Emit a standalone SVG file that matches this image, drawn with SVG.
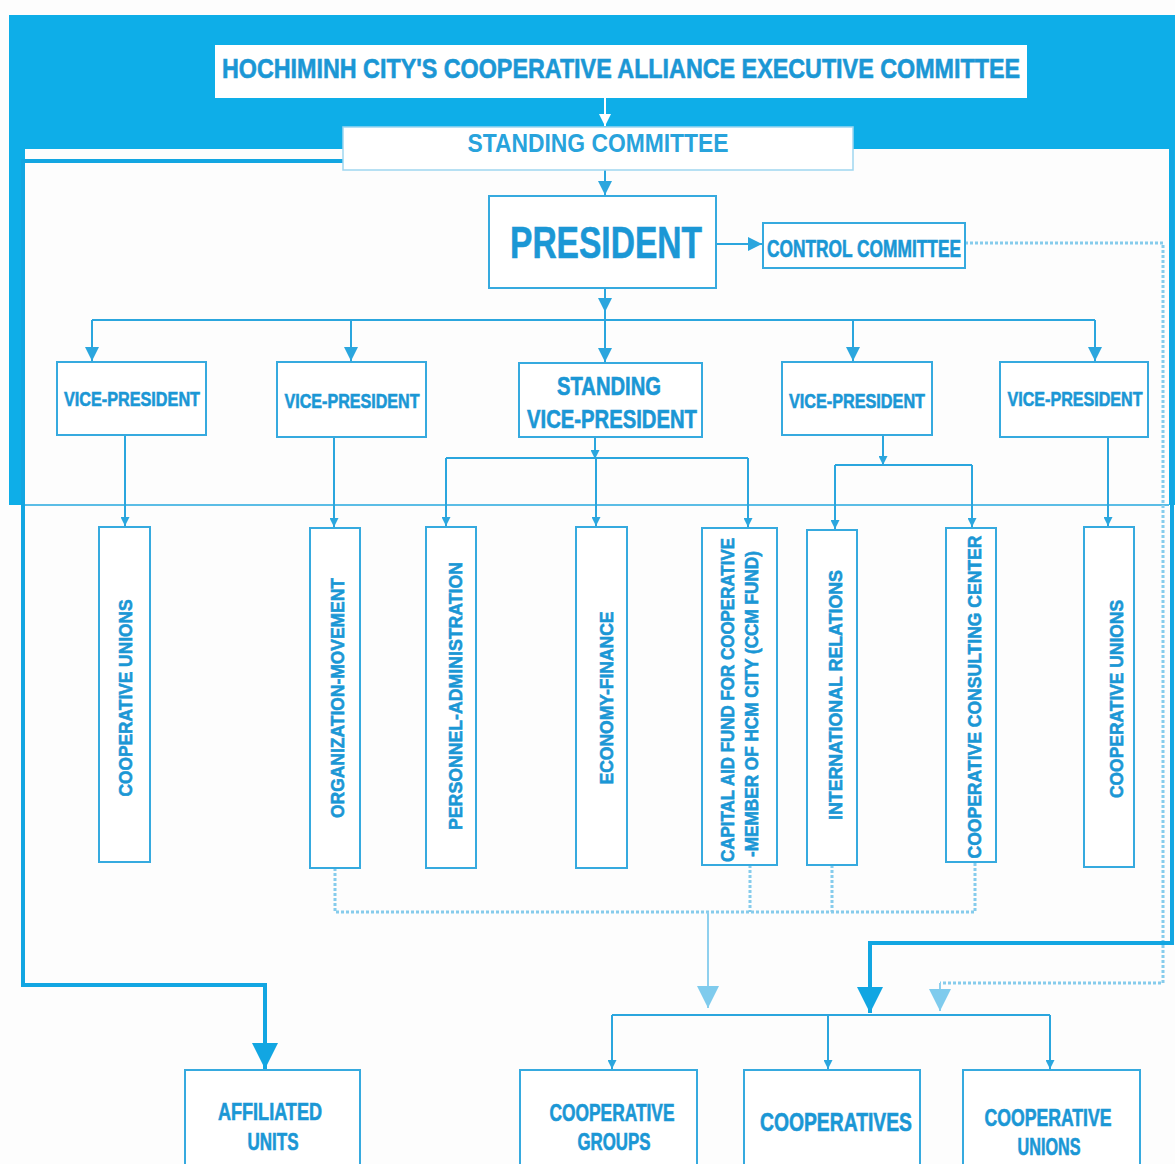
<svg xmlns="http://www.w3.org/2000/svg" width="1175" height="1164" viewBox="0 0 1175 1164">
<style>
text{font-family:"Liberation Sans",Arial,sans-serif;font-weight:bold;fill:#1b97d5;stroke:#1b97d5;stroke-width:0.6;text-anchor:middle}
.box{fill:#fff;stroke:#36aadf;stroke-width:2}
.ln{fill:none;stroke:#2ba6de;stroke-width:2}
.thick{fill:none;stroke:#12a6e2;stroke-width:4}
.dot{fill:none;stroke:#86ccec;stroke-width:3;stroke-dasharray:3 2}
.lite{fill:none;stroke:#8fd0ee;stroke-width:2}
</style>
<defs>
<marker id="a" viewBox="0 0 10 10" refX="10" refY="5" markerWidth="14" markerHeight="14" markerUnits="userSpaceOnUse" orient="auto"><path d="M0,0 L10,5 L0,10 z" fill="#2ba6de"/></marker>
<marker id="as" viewBox="0 0 10 10" refX="10" refY="5" markerWidth="9" markerHeight="9" markerUnits="userSpaceOnUse" orient="auto"><path d="M0,0 L10,5 L0,10 z" fill="#2ba6de"/></marker>
<marker id="aw" viewBox="0 0 10 10" refX="10" refY="5" markerWidth="12" markerHeight="12" markerUnits="userSpaceOnUse" orient="auto"><path d="M0,0 L10,5 L0,10 z" fill="#fff"/></marker>
<marker id="ab" viewBox="0 0 10 10" refX="10" refY="5" markerWidth="26" markerHeight="26" markerUnits="userSpaceOnUse" orient="auto"><path d="M0,0 L10,5 L0,10 z" fill="#12a6e2"/></marker>
<marker id="al" viewBox="0 0 10 10" refX="10" refY="5" markerWidth="22" markerHeight="22" markerUnits="userSpaceOnUse" orient="auto"><path d="M0,0 L10,5 L0,10 z" fill="#7fcbed"/></marker>
</defs>
<rect width="1175" height="1164" fill="#fdfdfd"/>
<g id="background">
<rect x="9" y="15" width="1166" height="490" fill="#0eaee8"/>
<rect x="25" y="149" width="1144" height="356" fill="#fdfdfd"/>
<line x1="25" y1="505" x2="1169" y2="505" stroke="#5bbde6" stroke-width="2"/>
</g>
<g id="connectors">
<line x1="605" y1="98" x2="605" y2="126" stroke="#fff" stroke-width="2" marker-end="url(#aw)"/>
<line class="ln" x1="605" y1="170" x2="605" y2="195" marker-end="url(#a)"/>
<line class="ln" x1="716" y1="244" x2="762" y2="244" marker-end="url(#a)"/>
<line class="ln" x1="605" y1="288" x2="605" y2="312" marker-end="url(#a)"/>
<line class="ln" x1="92" y1="320" x2="1095" y2="320"/>
<line class="ln" x1="92" y1="320" x2="92" y2="361" marker-end="url(#a)"/>
<line class="ln" x1="351" y1="320" x2="351" y2="361" marker-end="url(#a)"/>
<line class="ln" x1="605" y1="312" x2="605" y2="362" marker-end="url(#a)"/>
<line class="ln" x1="853" y1="320" x2="853" y2="361" marker-end="url(#a)"/>
<line class="ln" x1="1095" y1="320" x2="1095" y2="361" marker-end="url(#a)"/>
<line class="ln" x1="125" y1="436" x2="125" y2="526" marker-end="url(#as)"/>
<line class="ln" x1="334" y1="437" x2="334" y2="527" marker-end="url(#as)"/>
<line class="ln" x1="595" y1="437" x2="595" y2="459" marker-end="url(#as)"/>
<line class="ln" x1="446" y1="458" x2="748" y2="458"/>
<line class="ln" x1="446" y1="458" x2="446" y2="526" marker-end="url(#as)"/>
<line class="ln" x1="748" y1="458" x2="748" y2="527" marker-end="url(#as)"/>
<line class="ln" x1="596" y1="458" x2="596" y2="526" marker-end="url(#as)"/>
<line class="ln" x1="883" y1="435" x2="883" y2="465" marker-end="url(#as)"/>
<line class="ln" x1="835" y1="465" x2="972" y2="465"/>
<line class="ln" x1="835" y1="465" x2="835" y2="529" marker-end="url(#as)"/>
<line class="ln" x1="972" y1="465" x2="972" y2="527" marker-end="url(#as)"/>
<line class="ln" x1="1108" y1="437" x2="1108" y2="526" marker-end="url(#as)"/>
<polyline class="dot" points="335,868 335,912 975,912 975,862"/>
<line class="dot" x1="750" y1="865" x2="750" y2="912"/>
<line class="dot" x1="832" y1="865" x2="832" y2="912"/>
<line class="lite" x1="708" y1="912" x2="708" y2="1008" marker-end="url(#al)"/>
<polyline class="dot" points="965,243 1163,243 1163,983 940,983"/>
<line class="lite" x1="940" y1="983" x2="940" y2="1011" stroke-width="3" marker-end="url(#al)"/>
<polyline class="thick" points="343,161 23,161 23,985 265,985 265,1069" marker-end="url(#ab)"/>
<polyline class="thick" points="1172,150 1172,943 870,943 870,1013" marker-end="url(#ab)"/>
<line class="ln" x1="612" y1="1015" x2="1050" y2="1015"/>
<line class="ln" x1="612" y1="1015" x2="612" y2="1069" marker-end="url(#as)"/>
<line class="ln" x1="828" y1="1015" x2="828" y2="1069" marker-end="url(#as)"/>
<line class="ln" x1="1050" y1="1015" x2="1050" y2="1069" marker-end="url(#as)"/>
</g>
<g id="title"><rect x="215" y="45" width="812" height="53" fill="#fff"/><text x="621" y="78" font-size="27" textLength="798" lengthAdjust="spacingAndGlyphs">HOCHIMINH CITY'S COOPERATIVE ALLIANCE EXECUTIVE COMMITTEE</text></g>
<g id="standing-committee"><rect x="343" y="127" width="510" height="43" fill="#fff" stroke="#9fd6ef" stroke-width="1.5"/><text x="598" y="152" font-size="25" textLength="261" lengthAdjust="spacingAndGlyphs" style="fill:#28a3dc;stroke:none">STANDING COMMITTEE</text></g>
<g id="president"><rect class="box" x="489" y="196" width="227" height="92" stroke-width="3"/><text x="606" y="258" font-size="44" textLength="192" lengthAdjust="spacingAndGlyphs">PRESIDENT</text></g>
<g id="control-committee"><rect class="box" x="763" y="223" width="202" height="45"/><text x="864" y="257" font-size="23" textLength="194" lengthAdjust="spacingAndGlyphs">CONTROL COMMITTEE</text></g>
<g id="vp1"><rect class="box" x="57" y="362" width="149" height="73"/><text x="132" y="406" font-size="20" textLength="136" lengthAdjust="spacingAndGlyphs">VICE-PRESIDENT</text></g>
<g id="vp2"><rect class="box" x="277" y="362" width="149" height="75"/><text x="352" y="408" font-size="20" textLength="135" lengthAdjust="spacingAndGlyphs">VICE-PRESIDENT</text></g>
<g id="standing-vp"><rect class="box" x="519" y="363" width="183" height="74"/><text x="609" y="395" font-size="25" textLength="104" lengthAdjust="spacingAndGlyphs">STANDING</text><text x="612" y="428" font-size="25" textLength="170" lengthAdjust="spacingAndGlyphs">VICE-PRESIDENT</text></g>
<g id="vp3"><rect class="box" x="782" y="362" width="150" height="73"/><text x="857" y="408" font-size="20" textLength="136" lengthAdjust="spacingAndGlyphs">VICE-PRESIDENT</text></g>
<g id="vp4"><rect class="box" x="1000" y="362" width="148" height="75"/><text x="1075" y="406" font-size="20" textLength="135" lengthAdjust="spacingAndGlyphs">VICE-PRESIDENT</text></g>
<g id="coop-unions-1"><rect class="box" x="99" y="527" width="51" height="335"/><text transform="translate(132,698) rotate(-90)" font-size="19" textLength="197" lengthAdjust="spacingAndGlyphs">COOPERATIVE UNIONS</text></g>
<g id="organization-movement"><rect class="box" x="310" y="528" width="50" height="340"/><text transform="translate(344,698) rotate(-90)" font-size="19" textLength="240" lengthAdjust="spacingAndGlyphs">ORGANIZATION-MOVEMENT</text></g>
<g id="personnel-administration"><rect class="box" x="426" y="527" width="50" height="341"/><text transform="translate(462,696) rotate(-90)" font-size="19" textLength="268" lengthAdjust="spacingAndGlyphs">PERSONNEL-ADMINISTRATION</text></g>
<g id="economy-finance"><rect class="box" x="576" y="527" width="51" height="341"/><text transform="translate(613,698) rotate(-90)" font-size="19" textLength="173" lengthAdjust="spacingAndGlyphs">ECONOMY-FINANCE</text></g>
<g id="capital-aid-fund"><rect class="box" x="702" y="528" width="75" height="337"/><text transform="translate(734,700) rotate(-90)" font-size="18" textLength="324" lengthAdjust="spacingAndGlyphs">CAPITAL AID FUND FOR COOPERATIVE</text><text transform="translate(758,704) rotate(-90)" font-size="18" textLength="306" lengthAdjust="spacingAndGlyphs">-MEMBER OF HCM CITY (CCM FUND)</text></g>
<g id="international-relations"><rect class="box" x="807" y="530" width="50" height="335"/><text transform="translate(842,695) rotate(-90)" font-size="19" textLength="250" lengthAdjust="spacingAndGlyphs">INTERNATIONAL RELATIONS</text></g>
<g id="consulting-center"><rect class="box" x="946" y="528" width="50" height="334"/><text transform="translate(981,697) rotate(-90)" font-size="19" textLength="323" lengthAdjust="spacingAndGlyphs">COOPERATIVE CONSULTING CENTER</text></g>
<g id="coop-unions-2"><rect class="box" x="1084" y="527" width="50" height="340"/><text transform="translate(1123,699) rotate(-90)" font-size="19" textLength="198" lengthAdjust="spacingAndGlyphs">COOPERATIVE UNIONS</text></g>
<g id="affiliated-units"><rect class="box" x="185" y="1070" width="175" height="110"/><text x="270" y="1120" font-size="23" textLength="104" lengthAdjust="spacingAndGlyphs">AFFILIATED</text><text x="273" y="1150" font-size="23" textLength="51" lengthAdjust="spacingAndGlyphs">UNITS</text></g>
<g id="coop-groups"><rect class="box" x="520" y="1070" width="177" height="110"/><text x="612" y="1121" font-size="23" textLength="125" lengthAdjust="spacingAndGlyphs">COOPERATIVE</text><text x="614" y="1150" font-size="23" textLength="73" lengthAdjust="spacingAndGlyphs">GROUPS</text></g>
<g id="cooperatives"><rect class="box" x="744" y="1070" width="176" height="110"/><text x="836" y="1131" font-size="25" textLength="152" lengthAdjust="spacingAndGlyphs">COOPERATIVES</text></g>
<g id="coop-unions-3"><rect class="box" x="963" y="1070" width="177" height="110"/><text x="1048" y="1126" font-size="23" textLength="127" lengthAdjust="spacingAndGlyphs">COOPERATIVE</text><text x="1049" y="1155" font-size="23" textLength="63" lengthAdjust="spacingAndGlyphs">UNIONS</text></g>
</svg>
